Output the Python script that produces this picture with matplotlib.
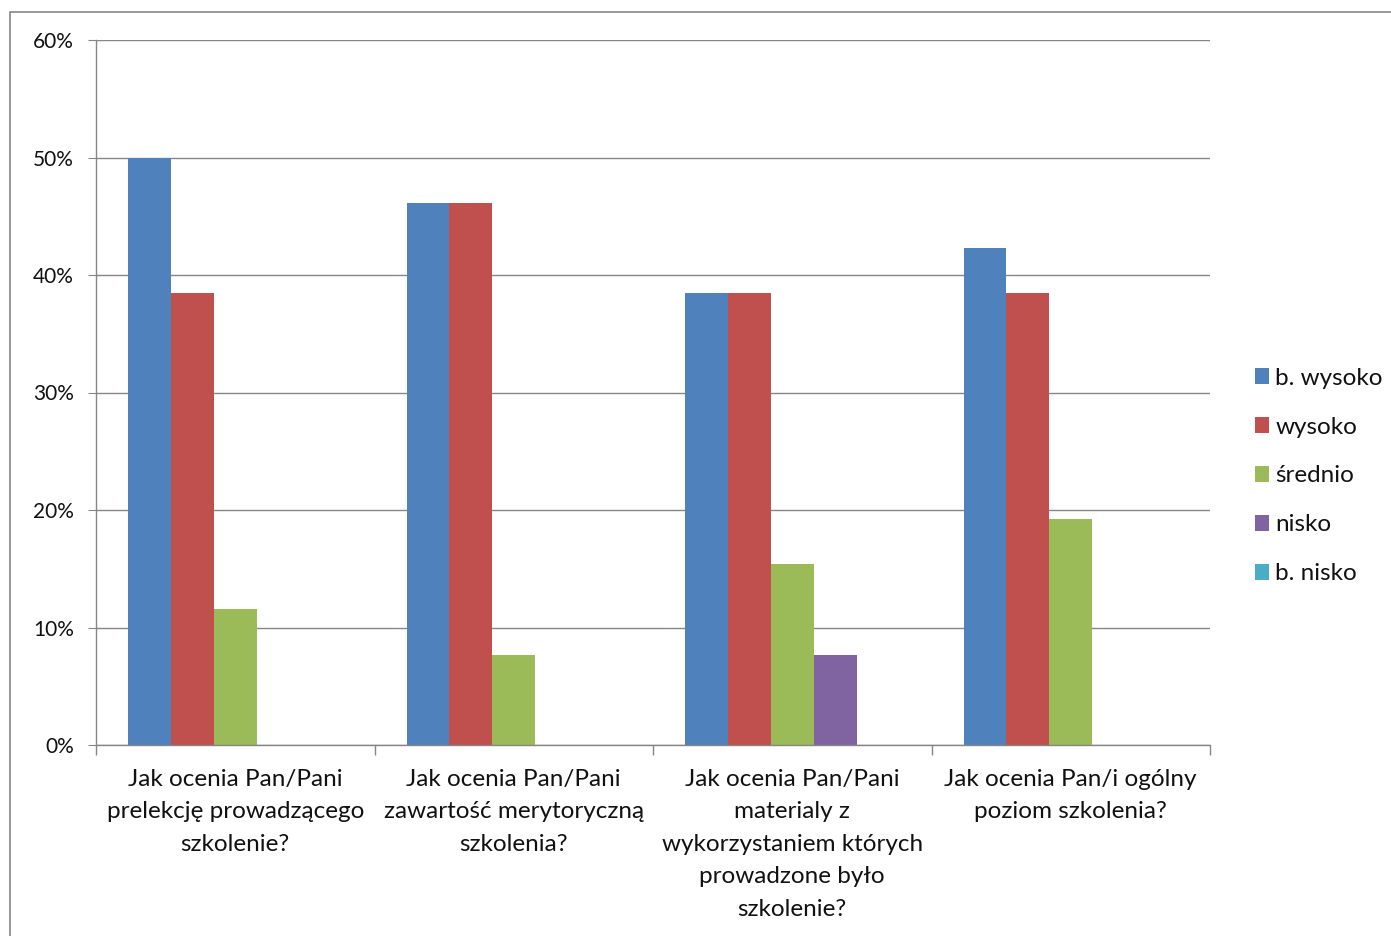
import matplotlib as mpl
mpl.use('Agg')

import matplotlib.pyplot as plt
import numpy as np
from matplotlib.patches import Rectangle
from matplotlib.ticker import FuncFormatter

plt.rcParams['font.family'] = ['Lato', 'DejaVu Sans']

categories = [
  "Jak ocenia Pan/Pani\nprelekcję prowadzącego\nszkolenie?",
  "Jak ocenia Pan/Pani\nzawartość merytoryczną\nszkolenia?",
  "Jak ocenia Pan/Pani\nmaterialy z\nwykorzystaniem których\nprowadzone było\nszkolenie?",
  "Jak ocenia Pan/i ogólny\npoziom szkolenia?",
]
series_names = ["b. wysoko", "wysoko", "średnio", "nisko", "b. nisko"]
b_wysoko = [50.0, 46.15, 38.46, 42.31]
wysoko = [38.46, 46.15, 38.46, 38.46]
srednio = [11.54, 7.69, 15.38, 19.23]
nisko = [0.0, 0.0, 7.69, 0.0]
b_nisko = [0.0, 0.0, 0.0, 0.0]
colors = ["#4F81BD", "#C0504D", "#9BBB59", "#8064A2", "#4BACC6"]

series = [b_wysoko, wysoko, srednio, nisko, b_nisko]

fig = plt.figure(figsize=(13.91, 9.36), dpi=100)
ax = fig.add_axes([96/1391, 1-745/936, (1210-96)/1391, (745-40)/936])

x = np.arange(len(categories))
w = 0.154
for i, (vals, name, c) in enumerate(zip(series, series_names, colors)):
  ax.bar(x + (i - 2) * w, vals, width=w, color=c, label=name, linewidth=0)

ax.set_xlim(-0.5, len(categories) - 0.5)
ax.set_ylim(0, 60)
ax.set_yticks(range(0, 61, 10))
ax.yaxis.set_major_formatter(FuncFormatter(lambda v, p: f"{int(v)}%"))
ax.yaxis.grid(True, color="#868686", linewidth=1)
ax.set_axisbelow(True)

ax.set_xticks(x)
ax.set_xticklabels(categories, fontsize=17.5, linespacing=1.68, color="#111111")
ax.tick_params(axis='x', length=0, pad=17)
# category boundary ticks
ax.set_xticks(np.arange(-0.5, len(categories)), minor=True)
ax.tick_params(axis='x', which='minor', length=7, color="#868686", width=1)
ax.tick_params(axis='y', labelsize=15, length=6, color="#868686", labelcolor="#111111", pad=10)

for s in ['top', 'right']:
  ax.spines[s].set_visible(False)
for s in ['left', 'bottom']:
  ax.spines[s].set_color("#868686")
  ax.spines[s].set_linewidth(1)

leg = fig.legend(loc='center left', bbox_to_anchor=(1245/1391, 1-476/936), frameon=False,
                 fontsize=17.5, handlelength=0.6, handleheight=0.6, handletextpad=0.25,
                 labelspacing=1.15, borderaxespad=0)
for t in leg.get_texts():
  t.set_color("#111111")

fig.patches.append(Rectangle((10/1391, -0.1), 1.2, 1-12/936+0.1, transform=fig.transFigure,
                             fill=False, edgecolor="#868686", linewidth=1.2))

fig.savefig("out.png", dpi=100)
